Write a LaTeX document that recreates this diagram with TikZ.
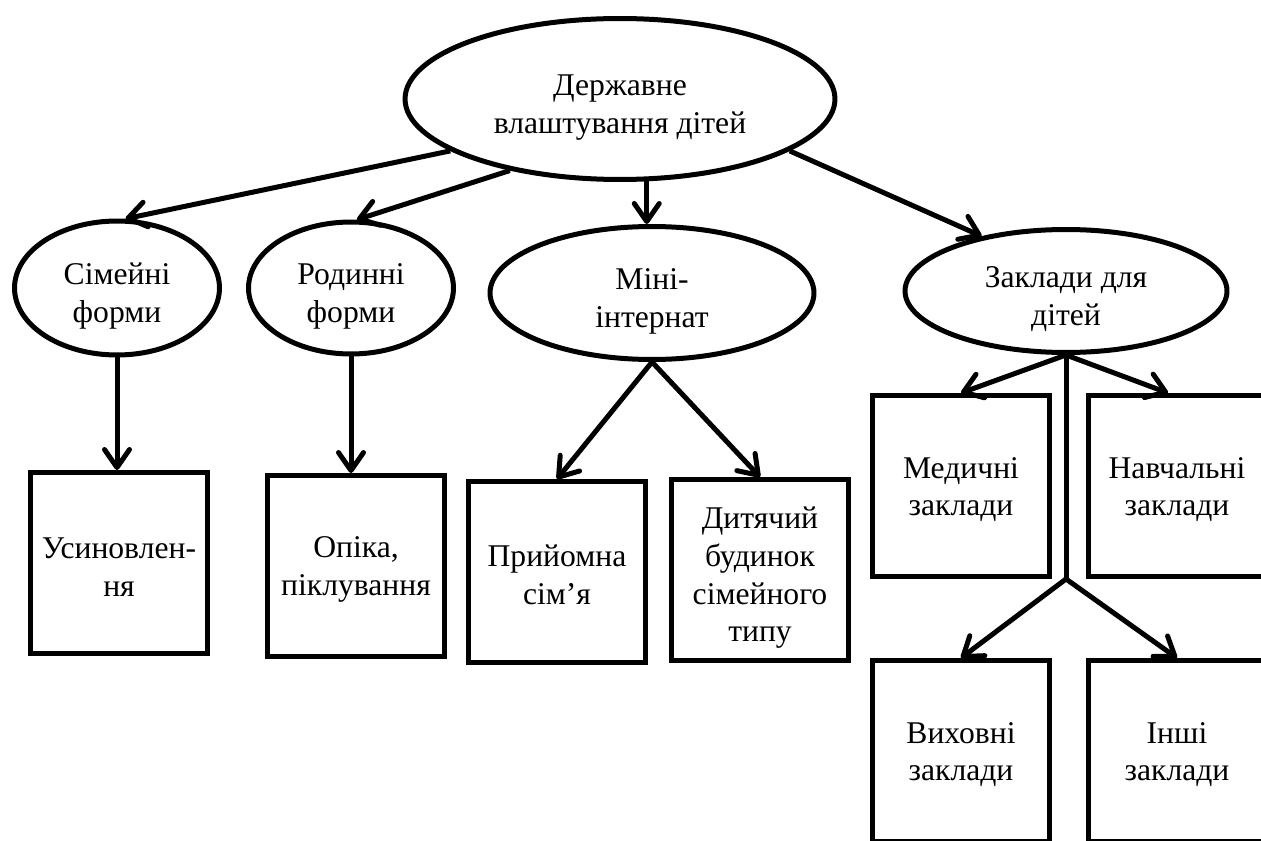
\documentclass[tikz,border=0pt]{standalone}
\usepackage{fontspec}
\setmainfont{Liberation Serif}
\usetikzlibrary{shapes.geometric,arrows.meta}
% invisible struts that push the first text line a little lower
\newcommand\ovalstrut{\rule{0pt}{21pt}}
\newcommand\cardstrut{\rule{0pt}{16pt}}
\begin{document}
\begin{tikzpicture}[x=0.02cm,y=-0.02cm,
  label text/.style={font=\fontsize{18}{21.6}\selectfont, align=center, inner sep=0pt},
  oval/.style={label text, ellipse, draw, line width=0.1cm},
  card/.style={label text, rectangle, draw, line width=0.1cm,
               minimum width=3.54cm, minimum height=3.62cm},
  link/.style={line width=0.1cm, line join=round,
               -{Straight Barb[length=0.36cm,width=0.5cm,round]}},
  stem/.style={line width=0.1cm}]
\useasboundingbox (0,0) rectangle (1261,841);
\fill[white] (0,0) rectangle (1261,841);
\clip (0,0) rectangle (1261,841);

% root
\node[oval, minimum width=8.6cm, minimum height=3.22cm] (top) at (620,99)
  {\ovalstrut Державне\\влаштування дітей};

% second level
\node[oval, minimum width=4.1cm, minimum height=2.68cm] (sim) at (117,288)
  {\ovalstrut Сімейні\\форми};
\node[oval, minimum width=4.1cm, minimum height=2.64cm] (rod) at (351,288)
  {\ovalstrut Родинні\\форми};
\node[oval, minimum width=6.48cm, minimum height=2.66cm] (mini) at (652,293)
  {\ovalstrut Міні-\\інтернат};
\node[oval, minimum width=6.44cm, minimum height=2.46cm] (zak) at (1066,291)
  {\ovalstrut Заклади для\\дітей};

% third level
\node[card] (usyn)  at (119,563)  {\cardstrut Усиновлен-\\ня};
\node[card] (opika) at (356,566)  {\cardstrut Опіка,\\піклування};
\node[card] (pryi)  at (557,572)  {\cardstrut Прийомна\\сім’я};
\node[card] (dyt)   at (760,570)  {\ovalstrut Дитячий\\будинок\\сімейного\\типу};
\node[card] (med)   at (961,486)  {\cardstrut Медичні\\заклади};
\node[card] (navch) at (1177,486) {\cardstrut Навчальні\\заклади};
\node[card] (vykh)  at (961,751)  {\cardstrut Виховні\\заклади};
\node[card] (inshi) at (1177,751) {\cardstrut Інші\\заклади};

% connectors from the root
\draw[link] (top.197.5) -- (sim.83);
\draw[link] (top.213) -- (rod.85);
\draw[link] (top.288) -- (top.288 |- mini.north);
\draw[link] (top.343) -- (zak.147);

% down to the third level
\draw[link] (sim.south) -- (sim.south |- usyn.north);
\draw[link] (rod.south) -- (rod.south |- opika.north);
\draw[link] (mini.south) -- (pryi.north);
\draw[link] (mini.south) -- (dyt.north);

% branching under the institutions
\coordinate (split) at (zak.south |- med.south);
\draw[stem] (zak.south) -- (split);
\draw[link] (zak.south) -- (med.north);
\draw[link] (zak.south) -- ([xshift=-0.18cm]navch.north);
\draw[link] (split) -- (vykh.north);
\draw[link] (split) -- (inshi.north);
\end{tikzpicture}
\end{document}
